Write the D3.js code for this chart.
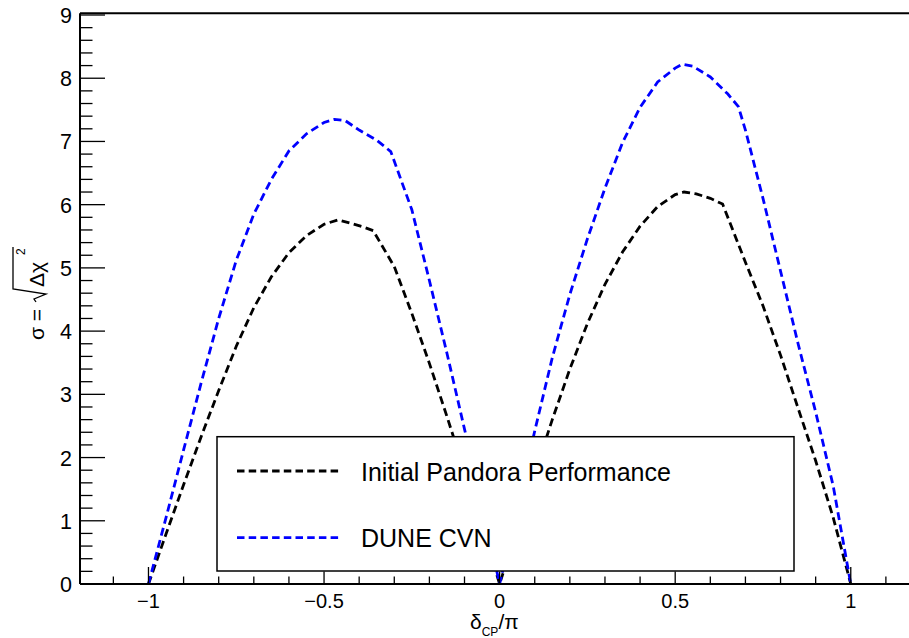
<!DOCTYPE html>
<html>
<head>
<meta charset="utf-8">
<script src="https://cdn.jsdelivr.net/npm/d3@7/dist/d3.min.js"></script>
<style>
  html, body { margin: 0; padding: 0; background: #fff; }
  svg { display: block; }
  text { font-family: "Liberation Sans", Arial, Helvetica, sans-serif; fill: #000; }
</style>
</head>
<body>
<svg id="chart" width="909" height="638"></svg>
<script>
// ---- data ----
const seriesNames = ["Initial Pandora Performance", "DUNE CVN"];
const seriesColors = ["#000000", "#0000ff"];

const deltaPandora = [-1.00, -0.95, -0.90, -0.85, -0.80, -0.75, -0.70, -0.65, -0.60, -0.55, -0.50, -0.46, -0.42, -0.39, -0.36,
  -0.30, -0.25, -0.20, -0.15, -0.10, -0.05, 0.00,
  0.05, 0.10, 0.15, 0.20, 0.25, 0.30, 0.35, 0.40, 0.45, 0.50, 0.525, 0.56, 0.60, 0.635,
  0.70, 0.75, 0.80, 0.85, 0.90, 0.95, 1.00];
const sigmaPandora = [0.00, 0.79, 1.57, 2.33, 3.06, 3.76, 4.37, 4.86, 5.24, 5.51, 5.69, 5.76, 5.70, 5.65, 5.59,
  5.02, 4.28, 3.49, 2.65, 1.78, 0.90, 0.00,
  0.88, 1.75, 2.60, 3.40, 4.12, 4.74, 5.25, 5.66, 5.97, 6.16, 6.20, 6.17, 6.10, 6.01,
  5.09, 4.40, 3.62, 2.78, 1.95, 1.05, 0.00];

const deltaCVN = [-1.00, -0.95, -0.90, -0.85, -0.80, -0.75, -0.70, -0.65, -0.60, -0.55, -0.50, -0.47, -0.44, -0.40, -0.35, -0.31,
  -0.25, -0.20, -0.15, -0.10, -0.05, 0.00,
  0.05, 0.10, 0.15, 0.20, 0.25, 0.30, 0.35, 0.40, 0.45, 0.50, 0.52, 0.55, 0.60, 0.65, 0.68,
  0.70, 0.75, 0.80, 0.85, 0.90, 0.95, 1.00];
const sigmaCVN = [0.00, 1.05, 2.12, 3.18, 4.20, 5.12, 5.85, 6.40, 6.85, 7.12, 7.30, 7.35, 7.33, 7.18, 7.02, 6.84,
  5.92, 4.80, 3.65, 2.45, 1.25, 0.00,
  1.22, 2.42, 3.58, 4.58, 5.46, 6.26, 6.98, 7.54, 7.94, 8.16, 8.22, 8.19, 8.02, 7.75, 7.55,
  7.18, 6.10, 4.95, 3.80, 2.72, 1.55, 0.00];

const xTickLabels = [-1, -0.5, 0, 0.5, 1];
const yTickLabels = [0, 1, 2, 3, 4, 5, 6, 7, 8, 9];

// ---- layout ----
const svg = d3.select("#chart");
const x = d3.scaleLinear().domain([-1.195, 1.2]).range([80, 921]);
const y = d3.scaleLinear().domain([0, 9.027]).range([584, 13.3]);

const fmt = v => (v < 0 ? "\u2212" : "") + Math.abs(v);

// curves
const line = d3.line().x(d => x(d[0])).y(d => y(d[1]));
const series = [
  { name: seriesNames[0], color: seriesColors[0], pts: d3.zip(deltaPandora, sigmaPandora) },
  { name: seriesNames[1], color: seriesColors[1], pts: d3.zip(deltaCVN, sigmaCVN) }
];
svg.append("g").selectAll("path").data(series).join("path")
  .attr("d", d => line(d.pts))
  .attr("fill", "none")
  .attr("stroke", d => d.color)
  .attr("stroke-width", 2.8)
  .attr("stroke-dasharray", "8,4.5");

// x axis (ticks pointing up)
const xAxis = svg.append("g");
const xMinor = d3.range(-11, 12).map(i => i / 10);
xAxis.selectAll("line.t").data(xMinor).join("line")
  .attr("x1", d => x(d)).attr("x2", d => x(d))
  .attr("y1", y(0))
  .attr("y2", d => {
    const r = Math.round(d * 10);
    if (Math.abs(r) === 10) return y(0) - 17;
    if (r % 5 === 0) return y(0) - 12.5;
    return y(0) - 7.5;
  })
  .attr("stroke", "#000").attr("stroke-width", 1.3);
xAxis.append("line").attr("x1", 80).attr("x2", 909).attr("y1", y(0)).attr("y2", y(0))
  .attr("stroke", "#000").attr("stroke-width", 2);
xAxis.selectAll("text").data(xTickLabels).join("text")
  .attr("x", d => x(d)).attr("y", 607.5)
  .attr("text-anchor", "middle").attr("font-size", 20)
  .text(fmt);

// top frame line
svg.append("line").attr("x1", 80).attr("x2", 909).attr("y1", 13.3).attr("y2", 13.3)
  .attr("stroke", "#000").attr("stroke-width", 2);

// y axis (ticks pointing right)
const yAxis = svg.append("g");
const yMinor = d3.range(0, 46).map(i => i / 5);
yAxis.selectAll("line.t").data(yMinor).join("line")
  .attr("x1", 80)
  .attr("x2", (d, i) => i % 5 === 0 ? 105 : 92.5)
  .attr("y1", d => y(d)).attr("y2", d => y(d))
  .attr("stroke", "#000").attr("stroke-width", 1.3);
yAxis.append("line").attr("x1", 80).attr("x2", 80).attr("y1", 13.3).attr("y2", y(0))
  .attr("stroke", "#000").attr("stroke-width", 2);
yAxis.selectAll("text").data(yTickLabels).join("text")
  .attr("x", 72).attr("y", d => y(d) + 8)
  .attr("text-anchor", "end").attr("font-size", 21.5)
  .text(d => d);

// x title: δ_CP/π
const xt = svg.append("text").attr("x", 470).attr("y", 629).attr("font-size", 21);
xt.append("tspan").text("\u03b4");
xt.append("tspan").attr("font-size", 12).attr("dy", 7).text("CP");
xt.append("tspan").attr("dy", -7).text("/\u03c0");

// y title: σ = sqrt(Δχ²), rotated
const yt = svg.append("g").attr("transform", "translate(44,340) rotate(-90)");
yt.append("text").attr("x", 0).attr("y", 0).attr("font-size", 21).text("\u03c3 =");
yt.append("path")
  .attr("d", "M38,-8 L41,-10 L46,2 L51,-31 L93,-31")
  .attr("fill", "none").attr("stroke", "#000").attr("stroke-width", 1.3);
yt.append("text").attr("x", 53).attr("y", 0).attr("font-size", 21).text("\u0394\u03c7");
yt.append("text").attr("x", 85).attr("y", -19).attr("font-size", 12).text("2");

// legend
const lg = svg.append("g");
lg.append("rect").attr("x", 217).attr("y", 436.7).attr("width", 577).attr("height", 134.3)
  .attr("fill", "#fff").attr("stroke", "#000").attr("stroke-width", 1.5);
const entryY = [471, 537.7];
const entries = lg.selectAll("g.e").data(series).join("g");
entries.append("line")
  .attr("x1", 237).attr("x2", 339)
  .attr("y1", (d, i) => entryY[i]).attr("y2", (d, i) => entryY[i])
  .attr("stroke", d => d.color).attr("stroke-width", 2.8).attr("stroke-dasharray", "7.5,4.2");
entries.append("text")
  .attr("x", 361).attr("y", (d, i) => entryY[i] + 9.5)
  .attr("font-size", 25)
  .text(d => d.name);
</script>
</body>
</html>
